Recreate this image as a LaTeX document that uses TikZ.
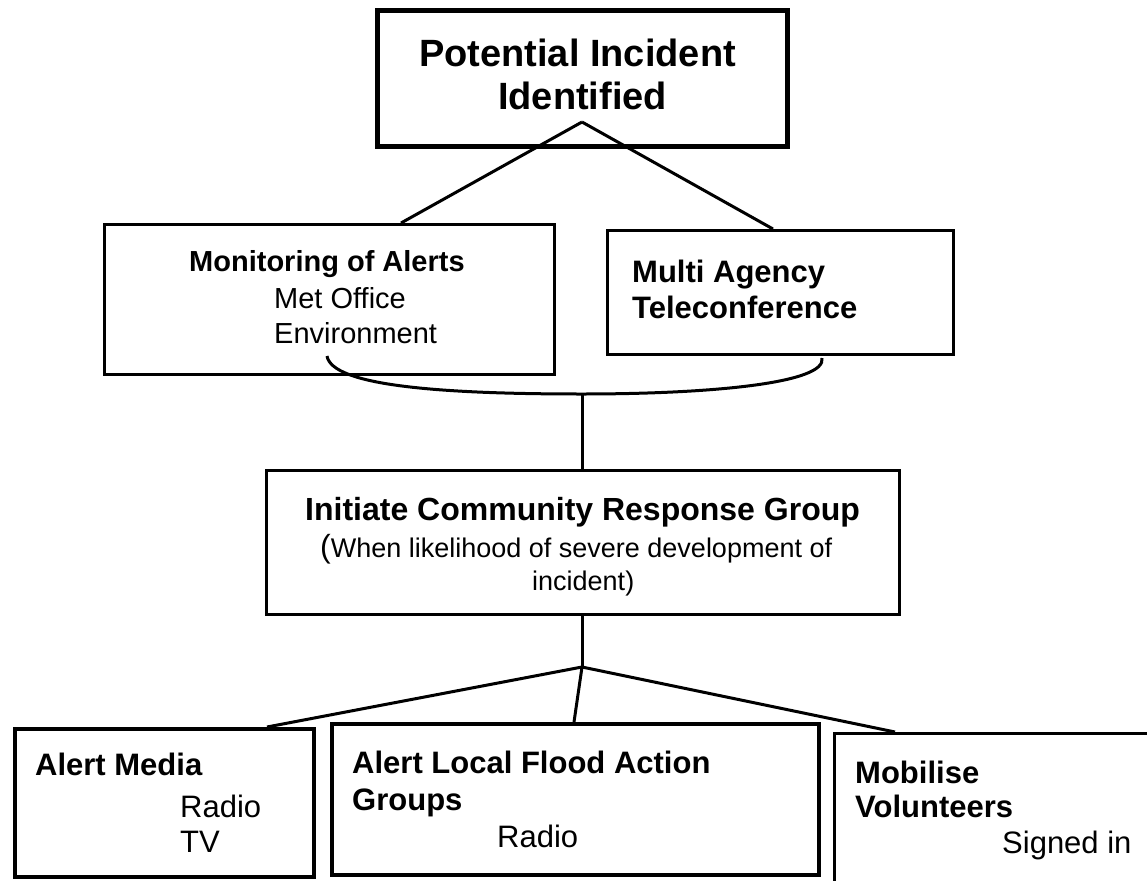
\documentclass[tikz,border=0pt]{standalone}
\usepackage{fontspec}
\setmainfont{Liberation Sans}
\usetikzlibrary{calc}

\newcommand\fsz[1]{\fontsize{#1}{#1}\selectfont}
\tikzset{
  box/.style={draw, rectangle, line width=3pt, inner sep=0pt, anchor=north west},
  head/.style={font=\fsz{31}\bfseries, inner sep=0pt, anchor=base west},
  item/.style={font=\fsz{31}, inner sep=0pt, anchor=base west},
  link/.style={line width=3pt},
}

\begin{document}
\begin{tikzpicture}[x=1pt, y=-1pt]
    \useasboundingbox (0,0) rectangle (1147,880);
    \fill[white] (0,0) rectangle (1147,880);
    \clip (0,0) rectangle (1147,880);

    % boxes
    \node[box, line width=5pt, minimum width=410pt, minimum height=136pt] (incident) at (375,8) {};
    \node[box, minimum width=450pt, minimum height=150pt] (monitor) at (103,223) {};
    \node[box, minimum width=346pt, minimum height=124pt] (agency) at (606,229) {};
    \node[box, minimum width=633pt, minimum height=144pt] (initiate) at (265,469) {};
    \node[box, line width=4pt, minimum width=299pt, minimum height=148pt] (media) at (13,727) {};
    \node[box, line width=3.5pt, minimum width=487pt, minimum height=151pt] (flood) at (330,722) {};
    \node[box, minimum width=340pt, minimum height=170pt] (volunteer) at (833,732) {};

    % texts
    \node[head, font=\fsz{38}\bfseries] (incident1) at (419,67) {Potential Incident};
    \node[head, font=\fsz{38}\bfseries] (incident2) at (498,110) {Identified};

    \node[head, font=\fsz{29}\bfseries] (monitor1) at (189,271) {Monitoring of Alerts};
    \node[item, font=\fsz{29}] (monitor2) at (274,308) {Met Office};
    \node[item, font=\fsz{29}] (monitor3) at (274,343) {Environment};

    \node[head] (agency1) at (632,282) {Multi Agency};
    \node[head] (agency2) at (632,318) {Teleconference};

    \node[head, font=\fsz{32}\bfseries] (initiate1) at (305,520) {Initiate Community Response Group};
    \node[item, font=\fsz{27}] (initiate2) at (320,557) {{\fsz{32}(}When likelihood of severe development of};
    \node[item, font=\fsz{27}] (initiate3) at (532,590) {incident)};

    \node[head] (media1) at (35,775) {Alert Media};
    \node[item] (media2) at (180,817) {Radio};
    \node[item] (media3) at (180,852) {TV};

    \node[head] (flood1) at (352,773) {Alert Local Flood Action};
    \node[head] (flood2) at (352,810) {Groups};
    \node[item] (flood3) at (497,847) {Radio};

    \node[head] (volunteer1) at (855,783) {Mobilise};
    \node[head] (volunteer2) at (855,817) {Volunteers};
    \node[item] (volunteer3) at (1002,853) {Signed in};

    % connectors
    \coordinate (apex) at (582,122);
    \draw[link] (apex) -- ($(monitor.north west)+(298,0)$);
    \draw[link] (apex) -- ($(agency.north west)+(167,0)$);

    \coordinate (bend) at (582,394);
    \coordinate (bendL) at ($(monitor.south west)+(224,-20)$);
    \coordinate (bendR) at ($(agency.south west)+(216,2)$);
    \draw[link] (bendL) .. controls +(5,30) and +(-140,0) .. (bend)
                        .. controls +(130,0) and +(5,25) .. (bendR);
    \draw[link] (bend) -- (bend |- initiate.north);

    \coordinate (fork) at (582,667);
    \draw[link] (fork |- initiate.south) -- (fork);
    \draw[link] (fork) -- ($(media.north west)+(254,0)$);
    \draw[link] (fork) -- ($(flood.north west)+(244,0)$);
    \draw[link] (fork) -- ($(volunteer.north west)+(62,0)$);
\end{tikzpicture}
\end{document}
